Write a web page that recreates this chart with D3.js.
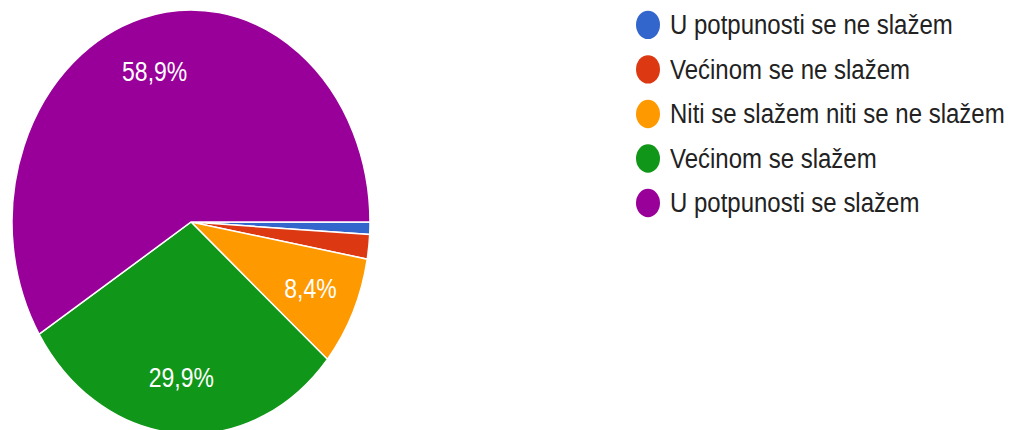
<!DOCTYPE html>
<html>
<head>
<meta charset="utf-8">
<script src="https://cdn.jsdelivr.net/npm/d3@7"></script>
<style>
  body { margin: 0; background: #fff; }
  svg { display: block; }
</style>
</head>
<body>
<svg id="chart" width="1010" height="430"></svg>
<script>
// answer counts (107 responses)
var categories = [
    "U potpunosti se ne slažem",
    "Većinom se ne slažem",
    "Niti se slažem niti se ne slažem",
    "Većinom se slažem",
    "U potpunosti se slažem"
];
var counts = [1, 2, 9, 32, 63];
var colors = ["#3366cc", "#dc3912", "#ff9900", "#109618", "#990099"];

var total = d3.sum(counts);
var data = categories.map((c, i) => ({ name: c, value: counts[i], color: colors[i] }));

// the screenshot is stretched vertically, so draw in a squashed space and scale back
var stretch = 212 / 179;
var svg = d3.select("#chart");
var g = svg.append("g").attr("transform", `scale(1, ${stretch})`);

var radius = 179;
var cx = 191, cy = 222 / stretch;

var pie = d3.pie()
    .value(d => d.value)
    .sort(null)
    .startAngle(Math.PI / 2)
    .endAngle(Math.PI / 2 + 2 * Math.PI);

var arc = d3.arc().innerRadius(0).outerRadius(radius);
var labelArc = d3.arc().innerRadius(132).outerRadius(132);

var pieG = g.append("g").attr("transform", `translate(${cx},${cy})`);

pieG.selectAll("path")
    .data(pie(data))
    .join("path")
    .attr("d", arc)
    .attr("fill", d => d.data.color)
    .attr("stroke", "#fff")
    .attr("stroke-width", 1.5)
    .attr("vector-effect", "non-scaling-stroke");

function fmt(v) {
    return (v / total * 100).toFixed(1).replace(".", ",") + "%";
}

pieG.selectAll("text")
    .data(pie(data).filter(d => d.data.value / total >= 0.05))
    .join("text")
    .attr("transform", d => `translate(${labelArc.centroid(d)})`)
    .attr("text-anchor", "middle")
    .attr("dy", "0.35em")
    .style("font-family", "'Liberation Sans', Arial, sans-serif")
    .style("font-size", "23px")
    .style("fill", "#fff")
    .text(d => fmt(d.data.value));

// legend
var legend = g.append("g").attr("transform", "translate(648, 21)");
var row = 37.6;

var item = legend.selectAll("g")
    .data(data)
    .join("g")
    .attr("transform", (d, i) => `translate(0, ${i * row})`);

item.append("circle")
    .attr("r", 12)
    .attr("fill", d => d.color);

item.append("text")
    .attr("x", 22)
    .attr("dy", "0.32em")
    .style("font-family", "'Liberation Sans', Arial, sans-serif")
    .style("font-size", "24px")
    .style("fill", "#222")
    .text(d => d.name);
</script>
</body>
</html>
